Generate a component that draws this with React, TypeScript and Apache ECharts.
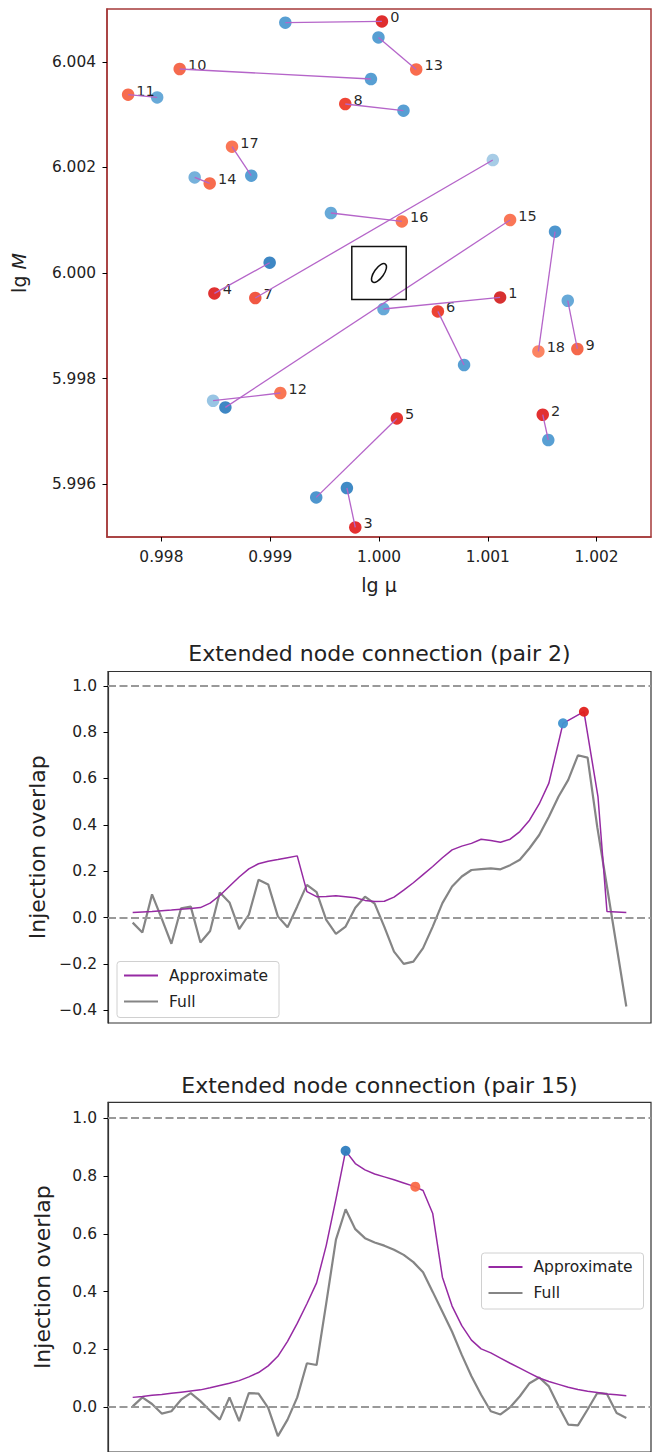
import React, { useEffect, useRef } from "react";
import * as echarts from "echarts";

// ---------- top panel: node pairs in the (lg μ, lg M) plane ----------
const pairIds = [0, 1, 2, 3, 4, 5, 6, 7, 8, 9, 10, 11, 12, 13, 14, 15, 16, 17, 18];
// labelled (origin) node of every pair
const originMu = [
  1.000027, 1.001113, 1.001505, 0.999782, 0.998487, 1.000164, 1.000541, 0.998863, 0.99969, 1.001823,
  0.998168, 0.997694, 0.999093, 1.000342, 0.998444, 1.001205, 1.00021, 0.998649, 1.001465,
];
const originM = [
  6.004765, 5.999538, 5.997316, 5.995182, 5.999614, 5.997246, 5.999273, 5.999527, 6.003201, 5.998561,
  6.003864, 6.003377, 5.997727, 6.003856, 6.001697, 6.001004, 6.000977, 6.002392, 5.998515,
];
// partner (target) node of every pair
const targetMu = [
  0.999139, 1.000041, 1.001556, 0.999705, 0.998995, 0.999423, 1.000782, 1.001046, 1.000225, 1.001735,
  0.999926, 0.997961, 0.998475, 0.999995, 0.998306, 0.998588, 0.999558, 0.998826, 1.001618,
];
const targetM = [
  6.004741, 5.999318, 5.996837, 5.995928, 6.000195, 5.99575, 5.998258, 6.00214, 6.003074, 5.999475,
  6.003674, 6.003326, 5.997581, 6.004462, 6.001811, 5.997455, 6.001136, 6.001843, 6.000782,
];
const muTicks = [0.998, 0.999, 1.0, 1.001, 1.002];
const mTicks = [5.996, 5.998, 6.0, 6.002, 6.004];
// reference node and its search box
const centreNode = [1.0, 6.0];
const boxMu = [0.99975, 1.00025];
const boxM = [5.9995, 6.0005];

// ---------- middle panel: pair 2 ----------
const full2 = [
  -0.022, -0.065, 0.1, -0.005, -0.113, 0.04, 0.047, -0.108, -0.058, 0.108,
  0.065, -0.05, 0.012, 0.163, 0.143, 0.005, -0.042, 0.048, 0.141, 0.11,
  -0.01, -0.07, -0.039, 0.042, 0.09, 0.06, -0.04, -0.147, -0.2, -0.19,
  -0.132, -0.039, 0.062, 0.134, 0.177, 0.205, 0.209, 0.212, 0.208, 0.226,
  0.249, 0.299, 0.356, 0.435, 0.522, 0.594, 0.7, 0.69, 0.39, 0.134,
  -0.125, -0.384,
];
const approx2Steps = [
  0.022, 0.024, 0.026, 0.029, 0.032, 0.036, 0.039, 0.043, 0.062, 0.095,
  0.135, 0.175, 0.21, 0.232, 0.243, 0.25, 0.258, 0.266, 0.112, 0.09,
  0.091, 0.094, 0.09, 0.085, 0.074, 0.069, 0.07, 0.088, 0.118, 0.15,
  0.185, 0.22, 0.258, 0.292, 0.308, 0.32, 0.338, 0.332, 0.325, 0.338,
  0.371, 0.42, 0.49, 0.58,
];
const approx2Tail = [
  [44.46, 0.838],
  [46.62, 0.888],
  [48.07, 0.522],
  [49.0, 0.026],
  [51.0, 0.022],
];
const pair2Nodes = [
  [44.46, 0.838],
  [46.62, 0.888],
];

// ---------- bottom panel: pair 15 ----------
const full15 = [
  0.003, 0.034, 0.011, -0.022, -0.014, 0.026, 0.049, 0.021, -0.012, -0.043,
  0.034, -0.048, 0.049, 0.047, -0.002, -0.1, -0.043, 0.034, 0.152, 0.146,
  0.36, 0.58, 0.685, 0.616, 0.585, 0.57, 0.559, 0.545, 0.527, 0.502,
  0.467, 0.399, 0.33, 0.261, 0.181, 0.107, 0.043, -0.014, -0.025, 0.0,
  0.038, 0.083, 0.103, 0.072, 0.003, -0.06, -0.063, -0.008, 0.049, 0.046,
  -0.02, -0.037,
];
const approx15 = [
  0.034, 0.037, 0.041, 0.044, 0.048, 0.052, 0.056, 0.06, 0.067, 0.075,
  0.083, 0.092, 0.105, 0.12, 0.143, 0.176, 0.228, 0.29, 0.358, 0.43,
  0.56, 0.72, 0.887, 0.843, 0.821, 0.807, 0.797, 0.787, 0.776, 0.765,
  0.75, 0.67, 0.45, 0.35, 0.282, 0.232, 0.202, 0.188, 0.17, 0.152,
  0.135, 0.118, 0.101, 0.089, 0.079, 0.069, 0.061, 0.055, 0.051, 0.046,
  0.043, 0.04,
];
const pair15Nodes = [
  [22, 0.887],
  [29.2, 0.763],
];

const overlapTicks2 = [-0.4, -0.2, 0, 0.2, 0.4, 0.6, 0.8, 1.0];
const overlapTicks15 = [0, 0.2, 0.4, 0.6, 0.8, 1.0];
const referenceLevels = [1, 0];

// ---------- styling ----------
const FONT = "'DejaVu Sans', sans-serif";
const INK = "#222";
const FRAME_RED = "#a53a3a";
const FRAME_DARK = "#333";
const originColors = [
  "#dc1c1c", "#d42020", "#e02020", "#e32020", "#dd2020", "#e3241f", "#ea3322", "#f04a33", "#ee3524", "#f45b3c",
  "#f45d3f", "#f6603f", "#f86a45", "#f8603f", "#f6603f", "#fa6a48", "#f86a45", "#fa6a48", "#fb7a55",
];
const targetColors = [
  "#4a97cf", "#5aa2d5", "#4a97cf", "#3080c0", "#2e7dbf", "#3f8dca", "#4a97cf", "#a0c8e4", "#4a97cf", "#5aa2d5",
  "#4a97cf", "#5aa2d5", "#8fc0e2", "#4a97cf", "#6aaad8", "#2e7dbf", "#5aa2d5", "#4a97cf", "#3f8dca",
];
const pair2NodeColors = ["#4094d0", "#e0201c"];
const pair15NodeColors = ["#2e7dbf", "#f96a48"];
const APPROX_COLOR = "#962aa3";
const FULL_COLOR = "#858585";

const signed = (v: number, digits: number) => {
  const s = Math.abs(v) < 1e-9 ? (0).toFixed(digits) : v.toFixed(digits);
  return s.replace("-", "\u2212");
};

const tickStyle = { show: true, inside: false, length: 4.5, lineStyle: { color: "#000", width: 1 } };

function overlapAxis(gridIndex: number, min: number, max: number, ticks: number[]) {
  return {
    type: "value",
    gridIndex,
    min,
    max,
    axisLine: { show: true, onZero: false, lineStyle: { color: FRAME_DARK, width: 1.2 } },
    splitLine: { show: false },
    axisTick: { ...tickStyle, customValues: ticks },
    axisLabel: {
      customValues: ticks,
      formatter: (v: number) => signed(v, 1),
      fontSize: 15.5,
      color: INK,
      fontFamily: FONT,
      margin: 11,
    },
    name: "Injection overlap",
    nameLocation: "middle",
    nameGap: 55,
    nameTextStyle: { fontSize: 22, color: INK, fontFamily: FONT },
  };
}

function stepAxis(gridIndex: number) {
  return {
    type: "value",
    gridIndex,
    min: -2.55,
    max: 53.55,
    axisLine: { show: false, onZero: false },
    axisTick: { show: false },
    axisLabel: { show: false },
    splitLine: { show: false },
  };
}

function overlapSeries(axisIndex: number, full: number[][], approx: number[][], nodes: number[][], nodeColors: string[]) {
  return [
    {
      name: "Full",
      type: "line",
      xAxisIndex: axisIndex,
      yAxisIndex: axisIndex,
      data: full,
      symbol: "none",
      showSymbol: false,
      lineStyle: { color: FULL_COLOR, width: 2.2 },
      itemStyle: { color: FULL_COLOR },
      z: 2,
      markLine: {
        silent: true,
        symbol: ["none", "none"],
        label: { show: false },
        lineStyle: { color: "#999", width: 2, type: [8, 3.5] },
        data: referenceLevels.map((y) => ({ yAxis: y })),
      },
    },
    {
      name: "Approximate",
      type: "line",
      xAxisIndex: axisIndex,
      yAxisIndex: axisIndex,
      data: approx,
      symbol: "none",
      showSymbol: false,
      lineStyle: { color: APPROX_COLOR, width: 1.5 },
      itemStyle: { color: APPROX_COLOR },
      z: 3,
    },
    {
      name: "nodes",
      type: "scatter",
      xAxisIndex: axisIndex,
      yAxisIndex: axisIndex,
      symbolSize: 10,
      z: 4,
      data: nodes.map((p, i) => ({ value: p, itemStyle: { color: nodeColors[i], opacity: 0.95 } })),
    },
  ];
}

function legendAt(left: number, top: number) {
  return {
    left,
    top,
    orient: "vertical",
    data: ["Approximate", "Full"],
    selectedMode: false,
    itemWidth: 34,
    itemHeight: 14,
    itemGap: 10,
    padding: [6, 11, 8, 6],
    borderColor: "#d0d0d0",
    borderWidth: 1,
    borderRadius: 3,
    backgroundColor: "rgba(255,255,255,0.8)",
    // line-only keys: the marker dot of the line icon is hidden
    itemStyle: { opacity: 0 },
    textStyle: { fontSize: 15.5, color: INK, fontFamily: FONT, padding: [0, 0, 0, 6] },
  };
}

function titleAt(text: string, top: number) {
  return {
    text,
    left: 379.5,
    top,
    padding: 0,
    textAlign: "center",
    textVerticalAlign: "top",
    textStyle: { fontSize: 22, fontWeight: "normal", color: INK, fontFamily: FONT },
  };
}

export default function App() {
  const ref = useRef<HTMLDivElement>(null);

  useEffect(() => {
    if (!ref.current) return;
    const chart = echarts.init(ref.current, null, { renderer: "svg" });

    const full2Data = full2.map((v, i) => [i, v]);
    const approx2Data = [...approx2Steps.map((v, i) => [i, v]), ...approx2Tail];
    const full15Data = full15.map((v, i) => [i, v]);
    const approx15Data = approx15.map((v, i) => [i, v]);

    const option = {
      animation: false,
      textStyle: { fontFamily: FONT },
      title: [
        titleAt("Extended node connection (pair 2)", 642),
        titleAt("Extended node connection (pair 15)", 1074),
      ],
      legend: [legendAt(117, 961.5), legendAt(481.5, 1253)],
      grid: [
        { left: 107, top: 9, width: 544, height: 528, show: true, borderColor: FRAME_RED, borderWidth: 1.5 },
        { left: 108, top: 671.5, width: 543, height: 351.5, show: true, borderColor: FRAME_DARK, borderWidth: 1.2 },
        { left: 108, top: 1102.3, width: 543, height: 352, show: true, borderColor: FRAME_DARK, borderWidth: 1.2 },
      ],
      xAxis: [
        {
          type: "value",
          gridIndex: 0,
          min: 0.9975,
          max: 1.0025,
          axisLine: { show: true, onZero: false, lineStyle: { color: FRAME_RED, width: 1.5 } },
          splitLine: { show: false },
          axisTick: { ...tickStyle, customValues: muTicks },
          axisLabel: {
            customValues: muTicks,
            formatter: (v: number) => v.toFixed(3),
            fontSize: 15.4,
            color: INK,
            fontFamily: FONT,
            margin: 12,
          },
          name: "lg \u03bc",
          nameLocation: "middle",
          nameGap: 38,
          nameTextStyle: { fontSize: 19, color: INK, fontFamily: FONT },
        },
        stepAxis(1),
        stepAxis(2),
      ],
      yAxis: [
        {
          type: "value",
          gridIndex: 0,
          min: 5.995,
          max: 6.005,
          axisLine: { show: true, onZero: false, lineStyle: { color: FRAME_RED, width: 1.5 } },
          splitLine: { show: false },
          axisTick: { ...tickStyle, customValues: mTicks },
          axisLabel: {
            customValues: mTicks,
            formatter: (v: number) => v.toFixed(3),
            fontSize: 15.4,
            color: INK,
            fontFamily: FONT,
            margin: 11,
          },
          name: "lg {i|M}",
          nameLocation: "middle",
          nameGap: 79,
          nameTextStyle: {
            fontSize: 19,
            color: INK,
            fontFamily: FONT,
            rich: { i: { fontSize: 19, fontStyle: "italic", color: INK, fontFamily: FONT } },
          },
        },
        overlapAxis(1, -0.455, 1.0615, overlapTicks2),
        overlapAxis(2, -0.155, 1.055, overlapTicks15),
      ],
      series: [
        {
          name: "targets",
          type: "scatter",
          xAxisIndex: 0,
          yAxisIndex: 0,
          symbolSize: 12.5,
          z: 2,
          data: pairIds.map((i) => ({
            value: [targetMu[i], targetM[i]],
            itemStyle: { color: targetColors[i], opacity: 0.92 },
          })),
        },
        {
          name: "origins",
          type: "scatter",
          xAxisIndex: 0,
          yAxisIndex: 0,
          symbolSize: 12.5,
          z: 2,
          data: pairIds.map((i) => ({
            value: [originMu[i], originM[i]],
            itemStyle: { color: originColors[i], opacity: 0.92 },
          })),
          label: {
            show: true,
            position: "right",
            distance: 2,
            offset: [0, -4],
            formatter: (p: any) => String(pairIds[p.dataIndex]),
            fontSize: 14.5,
            color: "#111",
            fontFamily: FONT,
          },
        },
        {
          name: "links",
          type: "lines",
          coordinateSystem: "cartesian2d",
          xAxisIndex: 0,
          yAxisIndex: 0,
          silent: true,
          z: 3,
          lineStyle: { color: "#b565c9", width: 1.3, opacity: 1, curveness: 0 },
          data: pairIds.map((i) => ({
            coords: [
              [originMu[i], originM[i]],
              [targetMu[i], targetM[i]],
            ],
          })),
        },
        {
          name: "search box",
          type: "custom",
          coordinateSystem: "cartesian2d",
          xAxisIndex: 0,
          yAxisIndex: 0,
          silent: true,
          z: 4,
          data: [centreNode],
          renderItem: (_params: any, api: any) => {
            const c = api.coord([api.value(0), api.value(1)]);
            const tl = api.coord([boxMu[0], boxM[1]]);
            const br = api.coord([boxMu[1], boxM[0]]);
            return {
              type: "group",
              children: [
                {
                  type: "rect",
                  shape: { x: tl[0], y: tl[1], width: br[0] - tl[0], height: br[1] - tl[1] },
                  style: { fill: "transparent", stroke: "#111", lineWidth: 1.5 },
                },
                {
                  type: "ellipse",
                  x: c[0],
                  y: c[1],
                  rotation: -0.62,
                  shape: { cx: 0, cy: 0, rx: 4.8, ry: 11 },
                  style: { fill: "transparent", stroke: "#111", lineWidth: 1.5 },
                },
              ],
            };
          },
        },
        ...overlapSeries(1, full2Data, approx2Data, pair2Nodes, pair2NodeColors),
        ...overlapSeries(2, full15Data, approx15Data, pair15Nodes, pair15NodeColors),
      ],
    };

    chart.setOption(option as any);
    return () => chart.dispose();
  }, []);

  return (
    <div
      ref={ref}
      style={{ position: "absolute", left: 0, top: 0, width: 652, height: 1452, background: "#fff" }}
    />
  );
}
